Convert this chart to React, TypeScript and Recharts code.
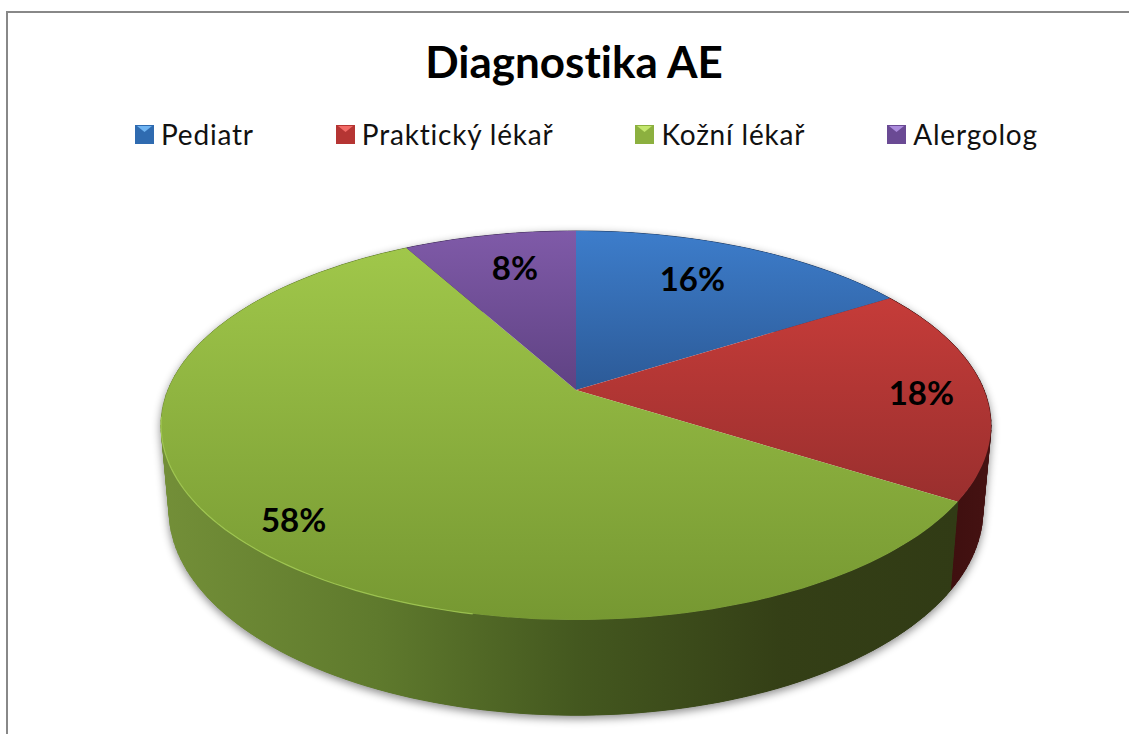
import { PieChart, Pie, Legend } from "recharts";

const names = ["Pediatr", "Praktický lékař", "Kožní lékař", "Alergolog"];
const shares = [16, 18, 58, 8];
const pieData = names.map((name, i) => ({ name, value: shares[i] }));

const legendColors = ["#2f6bb0", "#b53533", "#8cb03f", "#6a4a94"];
const legendLight = ["#6fb4f2", "#f26a66", "#c3e66d", "#ab8bdc"];
const labelNudgeX = [-23, 19, -18, 10];
const labelNudgeY = [5, 2, 15, 5];

const FONT = "Lato, 'Open Sans', sans-serif";
const CX = 576;
const CY = 390;
// perspective of the pie's disc
const TILT = -0.1825;
const TOP_RIM = { a: 408, b: 188, y0: CY };
const BOTTOM_RIM = { a: 400, b: 198, y0: 473 };

function project(deg: number, r: number, rim: { a: number; b: number; y0: number }) {
  const t = (deg * Math.PI) / 180;
  const X = r * Math.sin(t);
  const Y = -r * Math.cos(t);
  const d = 1 + TILT * Y;
  return [CX + (rim.a * X) / d, rim.y0 + (rim.b * Y) / d];
}

function rimPoints(from: number, to: number, rim: { a: number; b: number; y0: number }) {
  const steps = Math.max(2, Math.ceil(Math.abs(to - from) / 1.5));
  const pts: number[][] = [];
  for (let i = 0; i <= steps; i++) pts.push(project(from + ((to - from) * i) / steps, 1, rim));
  return pts;
}

const toPath = (pts: number[][]) =>
  pts.map((p, i) => `${i ? "L" : "M"}${p[0].toFixed(1)} ${p[1].toFixed(1)}`).join(" ");

function TopSlice(props: any) {
  const { startAngle, endAngle, index } = props;
  const from = 90 - startAngle;
  const to = 90 - endAngle;
  const d = `M${CX} ${CY} ${toPath(rimPoints(from, to, TOP_RIM)).replace("M", "L")} Z`;
  return (
    <g>
      <path d={d} fill={`url(#top${index})`} />
      {index === 2 && (
        <path
          d={toPath(rimPoints(192, 262, TOP_RIM))}
          fill="none"
          stroke="#a8d058"
          strokeWidth={1.2}
          strokeOpacity={0.8}
        />
      )}
    </g>
  );
}

// one quad per rim step, so the side silhouette stays straight where the two rims cross
function WallSlice(props: any) {
  const { startAngle, endAngle, index } = props;
  const from = 90 - startAngle;
  const to = 90 - endAngle;
  const upper = rimPoints(from, to, TOP_RIM);
  const lower = rimPoints(from, to, BOTTOM_RIM);
  const paint = `url(#wall${index})`;
  const outline = `${toPath(upper)} ${toPath([...lower].reverse()).replace("M", "L")} Z`;
  return (
    <g>
      <path d={outline} fill={paint} />
      {upper.slice(1).map((p, i) => (
        <path
          key={i}
          d={`${toPath([upper[i], p, lower[i + 1], lower[i]])} Z`}
          fill={paint}
          stroke={paint}
          strokeWidth={1}
        />
      ))}
    </g>
  );
}

function renderLabel(props: any) {
  const { midAngle, percent, index } = props;
  const [x, y] = project(90 - midAngle, 0.8, TOP_RIM);
  return (
    <text
      x={x + labelNudgeX[index]}
      y={y + labelNudgeY[index]}
      textAnchor="middle"
      dominantBaseline="central"
      fontFamily={FONT}
      fontWeight={700}
      fontSize={33}
      fill="#000"
    >
      {`${Math.round(percent * 100)}%`}
    </text>
  );
}

function LegendContent() {
  return (
    <div
      style={{
        display: "flex",
        alignItems: "center",
        gap: 82,
        fontFamily: FONT,
        fontSize: 28,
        color: "#111",
        fontVariantLigatures: "none",
      }}
    >
      {names.map((name, i) => (
        <div key={name} style={{ display: "flex", alignItems: "center", gap: 7 }}>
          <svg width={19} height={19}>
            <rect width={19} height={19} fill={legendColors[i]} />
            <path d="M2 1 L17 1 L9.5 7 Z" fill={legendLight[i]} />
          </svg>
          <span style={{ letterSpacing: 0.8 }}>{name}</span>
        </div>
      ))}
    </div>
  );
}

export default function App() {
  return (
    <div style={{ position: "absolute", left: 0, top: 0, width: 1129, height: 734, overflow: "hidden", background: "#fff" }}>
      <style>{`.pie-wall { filter: drop-shadow(0 3px 4px rgba(0,0,0,0.45)); }`}</style>
      <div style={{ position: "absolute", left: 6, top: 11, width: 1129, height: 734, borderLeft: "2.5px solid #888", borderTop: "2.5px solid #888" }} />
      <PieChart width={1129} height={734} style={{ position: "absolute", left: 0, top: 0 }}>
        <defs>
          <linearGradient id="top0" gradientUnits="userSpaceOnUse" x1="0" y1="231" x2="0" y2="390">
            <stop offset="0" stopColor="#3d7dcb" />
            <stop offset="1" stopColor="#2c5a97" />
          </linearGradient>
          <linearGradient id="top1" gradientUnits="userSpaceOnUse" x1="0" y1="295" x2="0" y2="500">
            <stop offset="0" stopColor="#c63c39" />
            <stop offset="1" stopColor="#9a2f2e" />
          </linearGradient>
          <linearGradient id="top2" gradientUnits="userSpaceOnUse" x1="0" y1="248" x2="0" y2="620">
            <stop offset="0" stopColor="#a0c74a" />
            <stop offset="1" stopColor="#769832" />
          </linearGradient>
          <linearGradient id="top3" gradientUnits="userSpaceOnUse" x1="0" y1="231" x2="0" y2="390">
            <stop offset="0" stopColor="#7f5aa8" />
            <stop offset="1" stopColor="#5f4283" />
          </linearGradient>
          <linearGradient id="wall0" gradientUnits="userSpaceOnUse" x1="575" y1="0" x2="890" y2="0">
            <stop offset="0" stopColor="#1f3e68" />
            <stop offset="1" stopColor="#1f3e68" />
          </linearGradient>
          <linearGradient id="wall1" gradientUnits="userSpaceOnUse" x1="945" y1="0" x2="990" y2="0">
            <stop offset="0" stopColor="#3e0f0f" />
            <stop offset="1" stopColor="#451212" />
          </linearGradient>
          <linearGradient id="wall2" gradientUnits="userSpaceOnUse" x1="162" y1="0" x2="958" y2="0">
            <stop offset="0" stopColor="#738f38" />
            <stop offset="0.27" stopColor="#5f7a2d" />
            <stop offset="0.52" stopColor="#44581f" />
            <stop offset="0.78" stopColor="#343f16" />
            <stop offset="1" stopColor="#313b15" />
          </linearGradient>
          <linearGradient id="wall3" gradientUnits="userSpaceOnUse" x1="405" y1="0" x2="575" y2="0">
            <stop offset="0" stopColor="#3f2c58" />
            <stop offset="1" stopColor="#3f2c58" />
          </linearGradient>
        </defs>
        <text
          x={574}
          y={78}
          textAnchor="middle"
          fontFamily={FONT}
          fontWeight={700}
          fontSize={44}
          fill="#000"
          style={{ fontVariantLigatures: "none" }}
        >
          Diagnostika AE
        </text>
        <Pie
          data={pieData}
          dataKey="value"
          nameKey="name"
          cx={CX}
          cy={CY}
          outerRadius={188}
          startAngle={90}
          endAngle={-270}
          stroke="none"
          legendType="none"
          className="pie-wall"
          shape={WallSlice}
          isAnimationActive={false}
        />
        <Pie
          data={pieData}
          dataKey="value"
          nameKey="name"
          cx={CX}
          cy={CY}
          outerRadius={188}
          startAngle={90}
          endAngle={-270}
          stroke="none"
          shape={TopSlice}
          label={renderLabel}
          labelLine={false}
          isAnimationActive={false}
        />
        <Legend content={<LegendContent />} wrapperStyle={{ position: "absolute", left: 135, top: 117, width: "auto" }} />
      </PieChart>
    </div>
  );
}
